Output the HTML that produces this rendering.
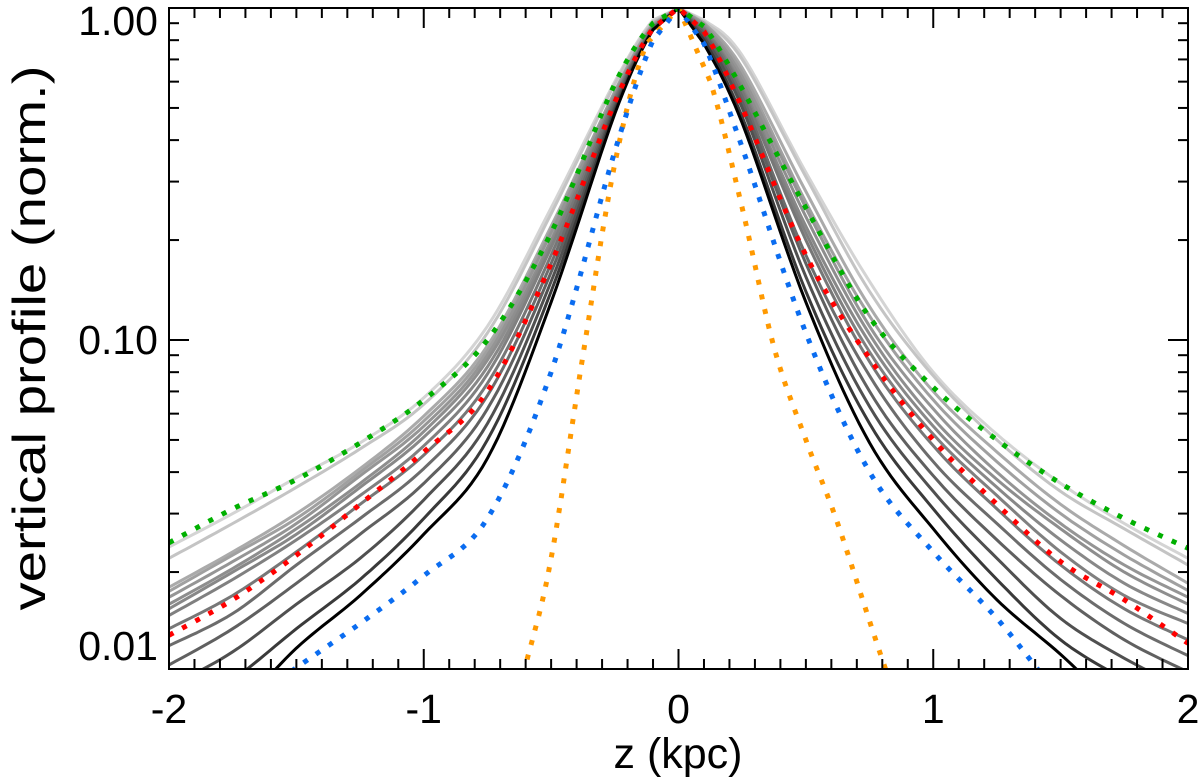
<!DOCTYPE html>
<html><head><meta charset="utf-8"><style>
html,body{margin:0;padding:0;background:#fff;overflow:hidden;width:1200px;height:782px;}
svg{display:block;}
svg text{font-family:"Liberation Sans",sans-serif;fill:#000;}
</style></head><body>
<svg id="chart" width="1200" height="782" xmlns="http://www.w3.org/2000/svg">
<defs><clipPath id="clip"><rect x="169" y="8" width="1019" height="661"/></clipPath></defs>
<g id="series" clip-path="url(#clip)"></g>
<rect x="169" y="8" width="1019" height="661" fill="none" stroke="#000" stroke-width="2"/>
<g id="axes"></g>
<text x="678" y="768" font-size="43" text-anchor="middle">z (kpc)</text>
<text transform="translate(45,338) rotate(-90)" font-size="46" text-anchor="middle" textLength="545" lengthAdjust="spacingAndGlyphs">vertical profile (norm.)</text>
</svg>
<script>
const zPts = [-2,-1.75,-1.5,-1.25,-1,-0.75,-0.5,-0.25,-0.1,0,0.1,0.25,0.5,0.75,1,1.25,1.5,1.75,2];
const grayColors = ['#000','#3a3a3a','#505050','#606060','#6c6c6c','#777','#808080','#888','#8e8e8e','#959595','#a0a0a0','#aaa','#c4c4c4','#d4d4d4'];
const grayVals = [
[0.0055,0.0075,0.0118,0.017,0.026,0.044,0.13,0.48,0.86,1,0.78,0.45,0.13,0.049,0.027,0.0165,0.0113,0.0075,0.0055],
[0.0075,0.0095,0.0135,0.019,0.029,0.05,0.14,0.49,0.86,1,0.8,0.47,0.14,0.056,0.031,0.019,0.0125,0.0095,0.0075],
[0.009,0.0115,0.016,0.022,0.033,0.056,0.15,0.5,0.86,1,0.82,0.5,0.155,0.063,0.035,0.022,0.0145,0.011,0.0088],
[0.0105,0.0135,0.0185,0.026,0.037,0.062,0.16,0.51,0.87,1,0.84,0.52,0.17,0.07,0.039,0.025,0.017,0.0125,0.0100],
[0.012,0.015,0.021,0.029,0.041,0.068,0.17,0.52,0.87,1,0.85,0.54,0.18,0.078,0.043,0.028,0.019,0.014,0.0112],
[0.0135,0.017,0.023,0.032,0.045,0.074,0.18,0.53,0.87,1,0.86,0.56,0.2,0.086,0.048,0.031,0.021,0.0155,0.0125],
[0.0148,0.019,0.025,0.034,0.048,0.079,0.19,0.53,0.88,1,0.87,0.57,0.21,0.092,0.052,0.034,0.023,0.017,0.014],
[0.0155,0.02,0.026,0.036,0.051,0.083,0.195,0.54,0.88,1,0.87,0.58,0.22,0.098,0.055,0.036,0.025,0.0185,0.015],
[0.016,0.0205,0.027,0.037,0.053,0.087,0.2,0.54,0.88,1,0.88,0.6,0.235,0.104,0.058,0.038,0.027,0.02,0.016],
[0.0168,0.0215,0.028,0.039,0.055,0.09,0.21,0.55,0.89,1,0.89,0.62,0.25,0.11,0.062,0.04,0.028,0.021,0.0168],
[0.0175,0.0225,0.029,0.04,0.057,0.093,0.215,0.56,0.89,1,0.9,0.64,0.26,0.118,0.066,0.043,0.03,0.0225,0.0176],
[0.018,0.023,0.03,0.041,0.059,0.096,0.22,0.56,0.9,1,0.9,0.66,0.28,0.126,0.07,0.046,0.032,0.024,0.0185],
[0.022,0.028,0.036,0.047,0.064,0.105,0.24,0.59,0.91,1,0.91,0.7,0.31,0.14,0.078,0.05,0.035,0.027,0.021],
[0.0238,0.030,0.0385,0.049,0.067,0.11,0.25,0.6,0.92,1,0.92,0.72,0.32,0.15,0.08,0.052,0.037,0.028,0.022]
];
const redVals = [0.0129,0.0165,0.0225,0.032,0.046,0.07,0.17,0.52,0.87,1,0.85,0.5,0.18,0.088,0.05,0.032,0.0215,0.0165,0.0122];
const greenVals = [0.0245,0.031,0.038,0.049,0.066,0.10,0.21,0.59,0.9,1,0.88,0.57,0.25,0.117,0.072,0.05,0.037,0.029,0.0236];
const blueVals = [0.0055,0.0075,0.0103,0.014,0.0195,0.029,0.08,0.37,0.8,1,0.78,0.38,0.105,0.04,0.023,0.0145,0.0085,0.006,0.004];
const orangeZ = [-0.75,-0.6,-0.5,-0.375,-0.25,-0.125,0,0.125,0.25,0.375,0.5,0.625,0.8,1];
const orangeVals = [0.004,0.0105,0.022,0.09,0.34,0.78,1,0.6,0.25,0.095,0.05,0.028,0.0109,0.004];
const xTicksMajor = [-2,-1,0,1,2];
const yTickLabels = ['0.01','0.10','1.00'];
const yTickVals = [0.01,0.1,1];

const NS='http://www.w3.org/2000/svg';
const X0=169,X1=1188,Y1=8,DEC=332;
const xs=z=>X0+(z+2)/4*(X1-X0);
const ys=v=>Y1-Math.log10(v)*DEC;
const sg=document.getElementById('series'), ax=document.getElementById('axes');
function mk(t,a,p){const e=document.createElementNS(NS,t);for(const k in a)e.setAttribute(k,a[k]);p.appendChild(e);return e;}
function line(z,v,color,dotted,name){
  const P=z.map((zz,i)=>[xs(zz),ys(v[i])]);
  const n=P.length;let pts=[];
  for(let i=0;i<n-1;i++){
    const p0=P[Math.max(i-1,0)],p1=P[i],p2=P[i+1],p3=P[Math.min(i+2,n-1)];
    const peakL=(v[i]===1),peakR=(v[i+1]===1);
    for(let s=0;s<12;s++){
      const t=s/12,t2=t*t,t3=t2*t;
      const m1=peakL?[0,0]:[(p2[0]-p0[0])/2,(p2[1]-p0[1])/2];
      const m2=peakR?[0,0]:[(p3[0]-p1[0])/2,(p3[1]-p1[1])/2];
      let q=[0,1].map(k=>(2*t3-3*t2+1)*p1[k]+(t3-2*t2+t)*m1[k]+(-2*t3+3*t2)*p2[k]+(t3-t2)*m2[k]);
      if(peakL||peakR){q=[p1[0]+(p2[0]-p1[0])*t,p1[1]+(p2[1]-p1[1])*t];}
      pts.push(q);
    }
  }
  pts.push(P[n-1]);
  const d=pts.map((p,i)=>(i?'L':'M')+p[0].toFixed(1)+','+Math.max(p[1],8).toFixed(1)).join('');
  const a={d:d,fill:'none',stroke:color,'stroke-width':dotted?5:3,'stroke-linejoin':'round'};
  if(dotted){a['stroke-dasharray']='5 10';}
  const e=mk('path',a,sg);
  
  
}
for(let i=grayVals.length-1;i>=0;i--){line(zPts,grayVals[i],grayColors[i],false,'profile-line-'+(i+1));}
line(orangeZ,orangeVals,'#ff9900',true,'orange-dotted-profile');
line(zPts,blueVals,'#0a6cf0',true,'blue-dotted-profile');
line(zPts,redVals,'#ff0000',true,'red-dotted-profile');
line(zPts,greenVals,'#00b000',true,'green-dotted-profile');
for(let k=-20;k<=20;k++){
  const z=k/10,x=xs(z),major=k%10===0,L=major?20:10;
  mk('line',{x1:x,x2:x,y1:669,y2:669-L,stroke:'#000','stroke-width':2},ax);
  mk('line',{x1:x,x2:x,y1:8,y2:8+L,stroke:'#000','stroke-width':2},ax);
}
xTicksMajor.forEach(z=>{const t=mk('text',{x:xs(z),y:723,'font-size':41,'text-anchor':'middle'},ax);t.textContent=String(z);

});
for(let dec=-2;dec<0;dec++){for(let m=1;m<=10;m++){
  const v=m*Math.pow(10,dec),y=ys(v);if(y>669.5)continue;const major=(m===1||m===10),L=major?20:10;
  mk('line',{x1:169,x2:169+L,y1:y,y2:y,stroke:'#000','stroke-width':2},ax);
  mk('line',{x1:1188,x2:1188-L,y1:y,y2:y,stroke:'#000','stroke-width':2},ax);
}}
yTickVals.forEach((v,i)=>{let y=Math.min(ys(v)+14,660);if(i===2)y=35;
const t=mk('text',{x:158,y:y,'font-size':41,'text-anchor':'end'},ax);t.textContent=yTickLabels[i];

});
</script>
</body></html>
